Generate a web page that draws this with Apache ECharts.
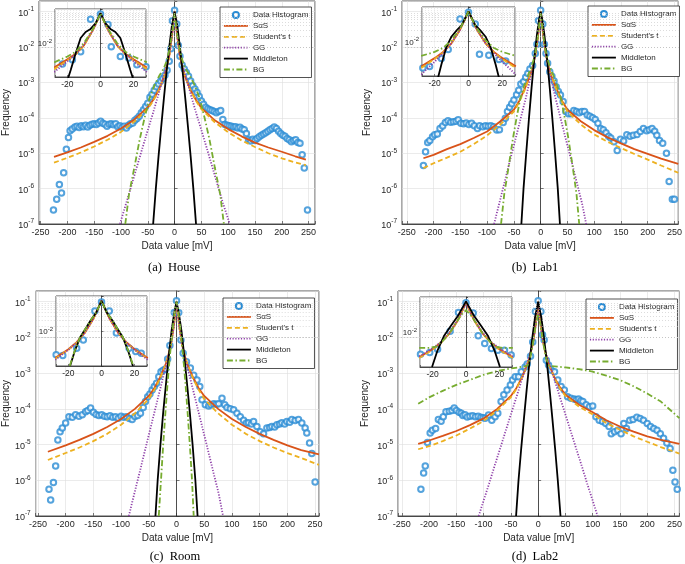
<!DOCTYPE html>
<html><head><meta charset="utf-8">
<script src="https://cdn.jsdelivr.net/npm/echarts@6/dist/echarts.min.js"></script>
<style>html,body{margin:0;padding:0;background:#fff}#c{width:685px;height:564px}</style>
</head><body><div id="c"></div><script>
// ---------------- DATA ----------------
const seriesNames = ['Data Histogram', 'SαS', "Student's t", 'GG', 'Middleton', 'BG'];
const captions = ['(a)  House', '(b)  Lab1', '(c)  Room', '(d)  Lab2'];
const xTickStep = 50;

// (a) House
const houseHist = [[-226,2.5e-7],[-220,5e-7],[-215,1.3e-6],[-211,7.5e-7],[-207,2.8e-6],[-202,1.3e-5],[-198,2.8e-5],[-195,4.3e-5],[-191,4.8e-5],[-186,5.5e-5],[-182,5.8e-5],[-178,5.3e-5],[-174,6e-5],[-170,5.6e-5],[-166,6.2e-5],[-162,5.5e-5],[-158,6.2e-5],[-154,6.6e-5],[-150,6.8e-5],[-146,6.5e-5],[-142,7.2e-5],[-138,8e-5],[-134,7e-5],[-130,6.6e-5],[-126,5.8e-5],[-122,6.6e-5],[-118,6.8e-5],[-114,6.4e-5],[-110,6.8e-5],[-106,5.6e-5],[-102,6e-5],[-98,5.4e-5],[-94,5.8e-5],[-90,5.2e-5],[-86,6.2e-5],[-82,6.8e-5],[-78,7.2e-5],[-74,8.5e-5],[-70,9.5e-5],[-66,1.1e-4],[-62,1.4e-4],[-58,1.7e-4],[-54,2.1e-4],[-50,2.6e-4],[-46,3.8e-4],[-42,4.6e-4],[-38,6e-4],[-34,7.5e-4],[-30,9e-4],[-26,1.1e-3],[-22,1.3e-3],[-18,1.6e-3],[-14,2.2e-3],[-10,4e-3],[-7,9e-3],[-4,0.055],[0,0.11],[4,0.045],[7,0.011],[10,5.5e-3],[14,3.1e-3],[18,2.4e-3],[22,1.9e-3],[26,1.5e-3],[30,1.1e-3],[34,8e-4],[38,6.5e-4],[42,5.2e-4],[46,4e-4],[50,3e-4],[54,2.4e-4],[58,2e-4],[62,1.8e-4],[66,1.7e-4],[70,1.6e-4],[74,1.5e-4],[78,1.4e-4],[82,1.5e-4],[86,1.6e-4],[90,9e-5],[94,6.5e-5],[98,6.2e-5],[102,6e-5],[106,5.8e-5],[110,5.5e-5],[114,5.6e-5],[118,5.2e-5],[122,5.4e-5],[126,4.8e-5],[130,4.6e-5],[134,3.6e-5],[138,2.4e-5],[142,2.2e-5],[146,2.5e-5],[150,2.3e-5],[154,2.6e-5],[158,2.9e-5],[162,3.2e-5],[166,3.5e-5],[170,3.8e-5],[174,4.2e-5],[178,4.6e-5],[182,5e-5],[186,5.5e-5],[190,5e-5],[194,4.2e-5],[198,3.6e-5],[202,3.2e-5],[206,3e-5],[210,2.6e-5],[214,2.4e-5],[218,2.1e-5],[222,2.3e-5],[226,2.4e-5],[230,2e-5],[234,1.9e-5],[238,9e-6],[242,3.8e-6],[248,2.5e-7]];
const houseSaS = [[-225,7.9e-6],[-200,1.05e-5],[-175,1.45e-5],[-150,2.1e-5],[-125,3.1e-5],[-100,5e-5],[-75,9e-5],[-50,2e-4],[-40,3.2e-4],[-30,6e-4],[-20,1.4e-3],[-15,2.5e-3],[-10,5.5e-3],[-5,0.02],[-2.5,0.045],[0,0.1],[2.5,0.045],[5,0.02],[10,5.5e-3],[15,2.5e-3],[20,1.4e-3],[30,6e-4],[40,3.2e-4],[50,1.9e-4],[75,8.5e-5],[100,4.8e-5],[125,3e-5],[150,2e-5],[175,1.45e-5],[200,1.1e-5],[225,8.2e-6],[245,6.6e-6]];
const houseT = [[-225,5.4e-6],[-200,7.4e-6],[-175,1.05e-5],[-150,1.55e-5],[-125,2.4e-5],[-100,4e-5],[-75,7.8e-5],[-50,1.8e-4],[-40,3e-4],[-30,5.8e-4],[-20,1.4e-3],[-15,2.5e-3],[-10,5.5e-3],[-5,0.02],[-2.5,0.045],[0,0.1],[2.5,0.045],[5,0.02],[10,5.5e-3],[15,2.5e-3],[20,1.4e-3],[30,5.8e-4],[40,3e-4],[50,1.75e-4],[75,7.5e-5],[100,3.9e-5],[125,2.3e-5],[150,1.5e-5],[175,1e-5],[200,7.2e-6],[225,5.5e-6],[245,4.6e-6]];
const houseGG = [[-102,1e-7],[-90,4e-7],[-80,1.3e-6],[-70,4.3e-6],[-60,1.4e-5],[-50,4.5e-5],[-40,1.4e-4],[-30,4.7e-4],[-20,1.6e-3],[-15,3e-3],[-10,6e-3],[-5,0.018],[-2.5,0.04],[0,0.1],[2.5,0.04],[5,0.018],[10,6e-3],[15,3e-3],[20,1.6e-3],[30,4.7e-4],[40,1.4e-4],[50,4.5e-5],[60,1.4e-5],[70,4.3e-6],[80,1.3e-6],[90,4e-7],[103,1e-7]];
const houseMid = [[-40,1e-7],[-35,1e-6],[-30,8e-6],[-25,5.5e-5],[-20,3.5e-4],[-15,2e-3],[-10,0.01],[-5,0.04],[0,0.1],[5,0.04],[10,0.01],[15,2e-3],[20,3.5e-4],[25,5.5e-5],[30,8e-6],[35,1e-6],[40,1e-7]];
const houseBG = [[-92,1e-7],[-85,7e-7],[-75,4e-6],[-65,2.5e-5],[-56,1e-4],[-47,3.5e-4],[-38,8e-4],[-28,1.6e-3],[-20,2.5e-3],[-15,4e-3],[-10,8e-3],[-5,0.022],[-2.5,0.045],[0,0.09],[2.5,0.045],[5,0.022],[10,8e-3],[15,4e-3],[20,2.5e-3],[28,1.6e-3],[38,8e-4],[47,3.5e-4],[56,1e-4],[65,2.5e-5],[75,4e-6],[85,7e-7],[92,1e-7]];
const houseInHist = [[-28,2.4e-3],[-23,2.4e-3],[-17,3.2e-3],[-12,5.5e-3],[-6,0.05],[0,0.071],[4.5,0.035],[6.5,7.8e-3],[12,4e-3],[17,3.6e-3],[22,2.3e-3],[27.5,2e-3]];
const houseInSaS = [[-28,1.9e-3],[-20,3.3e-3],[-15,4.8e-3],[-10,8.5e-3],[-5,0.022],[-2,0.045],[0,0.075],[2,0.045],[5,0.022],[10,8.5e-3],[15,4.8e-3],[20,3.3e-3],[28,1.9e-3]];
const houseInT = [[-28,1.7e-3],[-20,3.1e-3],[-15,4.6e-3],[-10,8.5e-3],[-5,0.022],[-2,0.045],[0,0.075],[2,0.045],[5,0.022],[10,8.5e-3],[15,4.6e-3],[20,3.1e-3],[28,1.7e-3]];
const houseInGG = [[-28,1.4e-3],[-20,2.9e-3],[-15,4.7e-3],[-10,9e-3],[-5,0.022],[-2,0.045],[0,0.075],[2,0.045],[5,0.022],[10,9e-3],[15,4.7e-3],[20,2.9e-3],[28,1.4e-3]];
const houseInMid = [[-20,8e-4],[-18,1.6e-3],[-15,5e-3],[-12,0.014],[-9,0.021],[-6,0.026],[-3,0.038],[0,0.075],[3,0.038],[6,0.026],[9,0.021],[12,0.014],[15,5e-3],[18,1.6e-3],[20,8e-4]];
const houseInBG = [[-28,2.7e-3],[-20,4e-3],[-15,5.5e-3],[-10,0.01],[-5,0.024],[-2,0.045],[0,0.075],[2,0.045],[5,0.024],[10,0.01],[15,5.5e-3],[20,4e-3],[28,2.7e-3]];

// (b) Lab1
const lab1Hist = [[-219,4.5e-6],[-215,1.1e-5],[-211,2e-5],[-207,2.3e-5],[-202,2.9e-5],[-198,3.3e-5],[-193,3.5e-5],[-188,5e-5],[-183,5.9e-5],[-178,7.4e-5],[-173,8.3e-5],[-168,7.5e-5],[-163,7.8e-5],[-158,8e-5],[-154,8.8e-5],[-149,7e-5],[-144,6.8e-5],[-139,7.2e-5],[-134,6.5e-5],[-129,7e-5],[-124,6e-5],[-118,5e-5],[-114,6e-5],[-108,5.6e-5],[-103,6e-5],[-98,5.8e-5],[-93,6e-5],[-88,5.6e-5],[-82,4.5e-5],[-77,4.6e-5],[-70,7.4e-5],[-66,9.8e-5],[-62,1.5e-4],[-58,2e-4],[-54,2.5e-4],[-50,3.2e-4],[-45,4.5e-4],[-41,6e-4],[-37,9e-4],[-32,1.05e-3],[-28,1.4e-3],[-24,1.8e-3],[-20,2.4e-3],[-15,3e-3],[-10,6.6e-3],[-7,0.012],[-4,0.056],[0,0.11],[4,0.045],[7,0.012],[10,6.6e-3],[13,3.5e-3],[17,2e-3],[21,1.5e-3],[25,1.1e-3],[29,7.6e-4],[33,5.5e-4],[37,4.4e-4],[42,2.9e-4],[47,1.5e-4],[52,1.3e-4],[57,1.3e-4],[62,1.6e-4],[67,1.5e-4],[72,1.4e-4],[77,1.5e-4],[82,1.5e-4],[87,1.2e-4],[92,1.1e-4],[97,1e-4],[102,9e-5],[107,7e-5],[112,5e-5],[117,4.6e-5],[122,3.8e-5],[127,3e-5],[131,2.7e-5],[137,2.1e-5],[143,1.2e-5],[149,2.5e-5],[155,2.2e-5],[161,3.3e-5],[167,3e-5],[173,3.2e-5],[180,3.4e-5],[186,4.1e-5],[192,5e-5],[198,4.3e-5],[203,4.6e-5],[208,5e-5],[213,4.2e-5],[217,3.2e-5],[222,2.3e-5],[228,1.9e-5],[235,1e-5],[240,1.6e-6],[246,5e-7],[250,5e-7]];
const lab1SaS = [[-219,7.2e-6],[-200,9e-6],[-175,1.3e-5],[-150,1.8e-5],[-125,2.7e-5],[-100,4.1e-5],[-75,8e-5],[-50,1.7e-4],[-40,3e-4],[-30,6.5e-4],[-20,1.5e-3],[-15,2.7e-3],[-10,6e-3],[-5,0.02],[-2.5,0.045],[0,0.1],[2.5,0.045],[5,0.02],[10,6e-3],[15,2.7e-3],[20,1.5e-3],[30,6.5e-4],[40,3e-4],[50,1.7e-4],[75,8e-5],[100,4.5e-5],[125,2.8e-5],[150,1.9e-5],[175,1.3e-5],[200,9.6e-6],[225,7e-6],[257,5e-6]];
const lab1T = [[-219,3.8e-6],[-200,5.2e-6],[-175,7.5e-6],[-150,1.1e-5],[-125,1.8e-5],[-100,3.2e-5],[-75,6.5e-5],[-50,1.5e-4],[-40,2.8e-4],[-30,6e-4],[-20,1.5e-3],[-15,2.7e-3],[-10,6e-3],[-5,0.02],[-2.5,0.045],[0,0.1],[2.5,0.045],[5,0.02],[10,6e-3],[15,2.7e-3],[20,1.5e-3],[30,6e-4],[40,2.8e-4],[50,1.5e-4],[75,6.5e-5],[100,3.4e-5],[125,2.1e-5],[150,1.4e-5],[175,9.5e-6],[200,6.6e-6],[225,4.5e-6],[257,2.8e-6]];
const lab1GG = [[-87,1e-7],[-77,4e-7],[-67,1.6e-6],[-57,6.5e-6],[-47,2.5e-5],[-37,1e-4],[-27,4e-4],[-20,1.2e-3],[-15,2.6e-3],[-10,6e-3],[-5,0.02],[-2.5,0.045],[0,0.1],[2.5,0.045],[5,0.02],[10,6e-3],[15,2.6e-3],[20,1.2e-3],[27,4e-4],[37,1e-4],[47,2.5e-5],[57,6.5e-6],[67,1.6e-6],[77,4e-7],[85,1e-7]];
const lab1Mid = [[-36,1e-7],[-32,1e-6],[-27,1e-5],[-22,9e-5],[-17,7e-4],[-12,4.5e-3],[-7,0.022],[-3,0.06],[0,0.1],[3,0.06],[7,0.022],[12,4.5e-3],[17,7e-4],[22,9e-5],[27,1e-5],[32,1e-6],[36,1e-7]];
const lab1BG = [[-74,1e-7],[-68,7e-7],[-60,4e-6],[-52,2.5e-5],[-45,1e-4],[-38,3.5e-4],[-31,8e-4],[-23,1.7e-3],[-17,2.8e-3],[-12,5e-3],[-7,0.012],[-3,0.04],[0,0.09],[3,0.04],[7,0.012],[12,5e-3],[17,2.8e-3],[23,1.7e-3],[31,8e-4],[38,3.5e-4],[45,1e-4],[52,2.5e-5],[60,4e-6],[67,7e-7],[72,1e-7]];
const lab1InHist = [[-27,1.7e-3],[-23,1.9e-3],[-16,3.2e-3],[-12,5.9e-3],[-5,0.045],[0,0.07],[4,0.032],[6.5,4.3e-3],[12,4e-3],[18,3e-3],[22,2.7e-3],[28,1.7e-3]];
const lab1InSaS = [[-28,1.9e-3],[-20,3.3e-3],[-15,5e-3],[-10,9e-3],[-5,0.022],[-2,0.045],[0,0.075],[2,0.045],[5,0.022],[10,9e-3],[15,5e-3],[20,3.3e-3],[28,1.9e-3]];
const lab1InT = [[-28,1.7e-3],[-20,3.1e-3],[-15,4.8e-3],[-10,9e-3],[-5,0.022],[-2,0.045],[0,0.075],[2,0.045],[5,0.022],[10,9e-3],[15,4.8e-3],[20,3.1e-3],[28,1.7e-3]];
const lab1InGG = [[-28,1.1e-3],[-20,2.6e-3],[-15,4.6e-3],[-10,9e-3],[-5,0.022],[-2,0.045],[0,0.075],[2,0.045],[5,0.022],[10,9e-3],[15,4.6e-3],[20,2.6e-3],[28,1.1e-3]];
const lab1InMid = [[-18,9e-4],[-16,2.2e-3],[-13,7e-3],[-10,0.014],[-7,0.021],[-4,0.03],[0,0.075],[4,0.03],[7,0.021],[10,0.014],[13,7e-3],[16,2.2e-3],[18,9e-4]];
const lab1InBG = [[-28,3.8e-3],[-20,5e-3],[-15,6.5e-3],[-10,0.011],[-5,0.024],[-2,0.045],[0,0.075],[2,0.045],[5,0.024],[10,0.011],[15,6.5e-3],[20,5e-3],[28,3.8e-3]];

// (c) Room
const roomHist = [[-230,5.6e-7],[-227,2.8e-7],[-222,8.7e-7],[-218,2.5e-6],[-214,1.35e-5],[-210,2.3e-5],[-206,2.9e-5],[-200,4e-5],[-194,6e-5],[-188,5.8e-5],[-182,6.9e-5],[-176,6.2e-5],[-170,6.8e-5],[-164,8.3e-5],[-160,9e-5],[-155,1.05e-4],[-150,8e-5],[-145,7e-5],[-140,6.5e-5],[-135,6.8e-5],[-130,6.2e-5],[-125,6e-5],[-120,6.4e-5],[-115,5.8e-5],[-110,6e-5],[-105,5.5e-5],[-100,6.2e-5],[-95,5.8e-5],[-90,6e-5],[-85,5.4e-5],[-80,5e-5],[-75,6.1e-5],[-70,6.5e-5],[-65,7.5e-5],[-60,1.1e-4],[-56,1.6e-4],[-52,2.2e-4],[-48,2.6e-4],[-44,3.4e-4],[-40,4.2e-4],[-36,5.2e-4],[-32,8e-4],[-28,1.1e-3],[-24,1.2e-3],[-20,1.3e-3],[-16,2.5e-3],[-12,6e-3],[-4,0.05],[0,0.107],[4,0.05],[8,8.5e-3],[12,3.6e-3],[18,2.1e-3],[25,1.4e-3],[31,8.8e-4],[37,6.4e-4],[42,4.2e-4],[46,1.8e-4],[52,1.3e-4],[58,1.2e-4],[62,1.3e-4],[67,1.4e-4],[72,1.35e-4],[76,1.4e-4],[82,2e-4],[87,1.3e-4],[91,1.1e-4],[97,1e-4],[103,9.4e-5],[109,7.5e-5],[115,6e-5],[121,4.8e-5],[126,4e-5],[130,4.1e-5],[135,3.8e-5],[139,4.4e-5],[145,3.2e-5],[151,2.3e-5],[157,2e-5],[163,2.9e-5],[168,3e-5],[172,3.2e-5],[177,3.1e-5],[181,3.6e-5],[186,3.8e-5],[190,4.1e-5],[195,3.8e-5],[199,4.4e-5],[204,4.2e-5],[208,5e-5],[214,4.7e-5],[220,5e-5],[226,4e-5],[232,2.9e-5],[235,2.1e-5],[240,1.1e-5],[244,5.6e-6],[250,9e-7]];
const roomSaS = [[-232,6.3e-6],[-200,9.5e-6],[-175,1.35e-5],[-150,2e-5],[-125,3.1e-5],[-100,5.2e-5],[-75,1e-4],[-50,2.3e-4],[-40,3.8e-4],[-30,7.5e-4],[-20,1.7e-3],[-15,3e-3],[-10,6.5e-3],[-5,0.02],[-2.5,0.045],[0,0.1],[2.5,0.045],[5,0.02],[10,6.5e-3],[15,3e-3],[20,1.7e-3],[30,7.5e-4],[40,3.8e-4],[50,2.3e-4],[75,1e-4],[100,5.2e-5],[125,3.1e-5],[150,2e-5],[175,1.35e-5],[200,9.5e-6],[225,7e-6],[257,5.3e-6]];
const roomT = [[-232,3.7e-6],[-200,5.8e-6],[-175,8.3e-6],[-150,1.25e-5],[-125,2e-5],[-100,3.6e-5],[-75,7.5e-5],[-50,1.9e-4],[-40,3.4e-4],[-30,7e-4],[-20,1.7e-3],[-15,3e-3],[-10,6.5e-3],[-5,0.02],[-2.5,0.045],[0,0.1],[2.5,0.045],[5,0.02],[10,6.5e-3],[15,3e-3],[20,1.7e-3],[30,7e-4],[40,3.4e-4],[50,1.9e-4],[75,7.5e-5],[100,3.6e-5],[125,2e-5],[150,1.25e-5],[175,8.3e-6],[200,5.8e-6],[225,4.2e-6],[257,2.7e-6]];
const roomGG = [[-86,1e-7],[-76,4.3e-7],[-66,1.8e-6],[-56,7.8e-6],[-46,3.3e-5],[-36,1.4e-4],[-26,5.9e-4],[-16,2.5e-3],[-10,6e-3],[-5,0.02],[-2.5,0.045],[0,0.1],[2.5,0.045],[5,0.02],[10,6e-3],[16,2.5e-3],[26,5.9e-4],[36,1.4e-4],[46,3.3e-5],[56,7.8e-6],[66,1.8e-6],[76,4.3e-7],[84,1e-7]];
const roomMid = [[-38,1e-7],[-34,1e-6],[-29,1e-5],[-24,8e-5],[-19,5e-4],[-14,3e-3],[-9,0.015],[-4,0.05],[0,0.1],[4,0.05],[9,0.015],[14,3e-3],[19,5e-4],[24,8e-5],[29,1e-5],[34,1e-6],[38,1e-7]];
const roomBG = [[-32,1e-7],[-28,1e-6],[-24,1e-5],[-20,8e-5],[-16,5.5e-4],[-12,3e-3],[-8,0.012],[-4,0.045],[0,0.1],[4,0.045],[8,0.012],[12,3e-3],[16,5.5e-4],[20,8e-5],[24,1e-5],[28,1e-6],[31,1e-7]];
const roomInHist = [[-27.4,2.1e-3],[-23.4,2e-3],[-15,3.2e-3],[-11,5.5e-3],[-4,0.037],[0,0.067],[4.7,0.037],[9,8.8e-3],[16.7,3.2e-3],[20.7,2.6e-3],[24,2.3e-3],[28,1.7e-3]];
const roomInSaS = [[-28,1.7e-3],[-20,3e-3],[-15,4.8e-3],[-10,9e-3],[-5,0.022],[-2,0.045],[0,0.072],[2,0.045],[5,0.022],[10,9e-3],[15,4.8e-3],[20,3e-3],[28,1.7e-3]];
const roomInT = [[-28,1.6e-3],[-20,2.9e-3],[-15,4.7e-3],[-10,9e-3],[-5,0.022],[-2,0.045],[0,0.072],[2,0.045],[5,0.022],[10,9e-3],[15,4.7e-3],[20,2.9e-3],[28,1.6e-3]];
const roomInGG = [[-28,1.5e-3],[-20,2.9e-3],[-15,4.7e-3],[-10,9e-3],[-5,0.022],[-2,0.045],[0,0.072],[2,0.045],[5,0.022],[10,9e-3],[15,4.7e-3],[20,2.9e-3],[28,1.5e-3]];
const roomInMid = [[-19,1e-3],[-16,2.8e-3],[-12.7,6.9e-3],[-9,0.013],[-6.6,0.02],[-3,0.035],[0,0.072],[3,0.035],[6.6,0.02],[9,0.013],[12.7,6.9e-3],[16,2.8e-3],[19,1e-3]];
const roomInBG = [[-19.2,1e-3],[-16,2.9e-3],[-12.7,7e-3],[-9,0.013],[-6.6,0.02],[-3,0.035],[0,0.072],[3,0.035],[6.6,0.02],[9,0.013],[12.7,7e-3],[16,2.9e-3],[19.2,1e-3]];

// (d) Lab2
const lab2Hist = [[-215,5.6e-7],[-210,1.6e-6],[-207,2.5e-6],[-203,1.15e-5],[-198,2.1e-5],[-194,2.5e-5],[-188,2.8e-5],[-183,5e-5],[-178,4.5e-5],[-174,6e-5],[-169,8.3e-5],[-163,8.6e-5],[-158,9e-5],[-154,1.05e-4],[-150,9e-5],[-145,8e-5],[-141,7.5e-5],[-138,6.5e-5],[-134,6.8e-5],[-130,5.9e-5],[-125,6.2e-5],[-120,6.4e-5],[-115,6e-5],[-110,6.2e-5],[-105,5.8e-5],[-101,5.6e-5],[-97,5.5e-5],[-91,6.7e-5],[-85,4.8e-5],[-79,6e-5],[-74,7.6e-5],[-68,1.6e-4],[-63,2.5e-4],[-57,3.4e-4],[-51,4.7e-4],[-47,6.4e-4],[-42,8e-4],[-36,8e-4],[-31,1.1e-3],[-24,1.5e-3],[-20,1.8e-3],[-14,3e-3],[-10,7.5e-3],[-5,0.053],[0,0.107],[5,0.053],[8,0.012],[11,8.5e-3],[15,2.3e-3],[19,1.7e-3],[24,1.2e-3],[30,1.1e-3],[36,6.4e-4],[42,4.2e-4],[48,3.4e-4],[54,2.2e-4],[60,2e-4],[66,1.9e-4],[70,1.8e-4],[74,1.9e-4],[78,1.7e-4],[82,1.6e-4],[88,1.3e-4],[94,1.15e-4],[100,1.2e-4],[106,6e-5],[112,4.8e-5],[118,4.4e-5],[124,3.9e-5],[130,3.2e-5],[134,2e-5],[140,2.3e-5],[146,2.5e-5],[152,2e-5],[157,3.9e-5],[162,2.8e-5],[168,4.8e-5],[174,5e-5],[181,5.8e-5],[187,5.4e-5],[193,4.8e-5],[200,3.9e-5],[206,3.2e-5],[212,2.8e-5],[218,2.5e-5],[224,2e-5],[230,1.5e-5],[236,1.1e-5],[242,7.8e-6],[247,1.9e-6],[251,9e-7],[255,5.6e-7]];
const lab2SaS = [[-220,1.05e-5],[-200,1.3e-5],[-175,1.75e-5],[-150,2.4e-5],[-125,3.5e-5],[-100,5.4e-5],[-75,1e-4],[-50,2.3e-4],[-40,3.8e-4],[-30,7.5e-4],[-20,1.7e-3],[-15,3e-3],[-10,6.5e-3],[-5,0.02],[-2.5,0.045],[0,0.1],[2.5,0.045],[5,0.02],[10,6.5e-3],[15,3e-3],[20,1.7e-3],[30,7.5e-4],[40,4e-4],[50,2.5e-4],[75,1.3e-4],[100,8e-5],[125,4.8e-5],[150,3.2e-5],[175,2.3e-5],[200,1.7e-5],[225,1.35e-5],[259,1.05e-5]];
const lab2T = [[-220,7.4e-6],[-200,9e-6],[-175,1.25e-5],[-150,1.8e-5],[-125,2.8e-5],[-100,4.6e-5],[-75,9e-5],[-50,2.1e-4],[-40,3.6e-4],[-30,7.2e-4],[-20,1.7e-3],[-15,3e-3],[-10,6.5e-3],[-5,0.02],[-2.5,0.045],[0,0.1],[2.5,0.045],[5,0.02],[10,6.5e-3],[15,3e-3],[20,1.7e-3],[30,7.2e-4],[40,3.7e-4],[50,2.3e-4],[75,1.15e-4],[100,7e-5],[125,4e-5],[150,2.6e-5],[175,1.7e-5],[200,1.2e-5],[225,8.5e-6],[259,5.6e-6]];
const lab2GG = [[-109,1e-7],[-100,2.7e-7],[-90,8e-7],[-80,2.5e-6],[-70,7.5e-6],[-60,2.3e-5],[-50,7e-5],[-40,2.1e-4],[-30,6.5e-4],[-20,2e-3],[-15,3.3e-3],[-10,6.5e-3],[-5,0.02],[-2.5,0.045],[0,0.1],[2.5,0.045],[5,0.02],[10,6.5e-3],[15,3.3e-3],[20,2e-3],[30,6.5e-4],[40,2.1e-4],[50,7e-5],[60,2.3e-5],[70,7.5e-6],[80,2.5e-6],[90,8e-7],[100,2.7e-7],[109,1e-7]];
const lab2Mid = [[-40.5,1e-7],[-36,1e-6],[-31,8e-6],[-26,5.5e-5],[-21,3.5e-4],[-16,2e-3],[-11,9e-3],[-6,0.035],[0,0.1],[6,0.035],[11,9e-3],[16,2e-3],[21,3.5e-4],[26,5.5e-5],[31,8e-6],[36,1e-6],[41,1e-7]];
const lab2BG = [[-220,1.4e-4],[-200,2.1e-4],[-175,3.2e-4],[-150,4.7e-4],[-125,6.5e-4],[-100,9e-4],[-75,1.15e-3],[-50,1.35e-3],[-30,1.5e-3],[-20,1.6e-3],[-15,2.5e-3],[-10,6e-3],[-5,0.02],[0,0.045],[5,0.02],[10,6e-3],[15,2.5e-3],[20,1.6e-3],[30,1.55e-3],[50,1.45e-3],[75,1.3e-3],[100,1.1e-3],[125,8.5e-4],[150,6.4e-4],[175,4.3e-4],[200,2.7e-4],[225,1.6e-4],[259,5.5e-5]];
const lab2InHist = [[-27.2,2.3e-3],[-21.7,2.6e-3],[-17,3.2e-3],[-9.5,0.0105],[-4.5,0.036],[0,0.068],[4.3,0.035],[7.3,7.8e-3],[11.2,4.7e-3],[15.2,3.4e-3],[19,3e-3],[23,3e-3],[27,2.2e-3]];
const lab2InSaS = [[-28,1.9e-3],[-20,3.2e-3],[-15,5e-3],[-10,9e-3],[-5,0.021],[-2,0.043],[0,0.07],[2,0.043],[5,0.021],[10,9e-3],[15,5e-3],[20,3.2e-3],[28,1.9e-3]];
const lab2InT = [[-28,1.8e-3],[-20,3.1e-3],[-15,4.9e-3],[-10,9e-3],[-5,0.021],[-2,0.043],[0,0.07],[2,0.043],[5,0.021],[10,9e-3],[15,4.9e-3],[20,3.1e-3],[28,1.8e-3]];
const lab2InGG = [[-28,2e-3],[-20,3.4e-3],[-15,5.2e-3],[-10,9.5e-3],[-5,0.022],[-2,0.043],[0,0.07],[2,0.043],[5,0.022],[10,9.5e-3],[15,5.2e-3],[20,3.4e-3],[28,2e-3]];
const lab2InMid = [[-20.3,1e-3],[-17,3e-3],[-13,8e-3],[-9,0.015],[-5,0.028],[0,0.075],[5,0.028],[9,0.015],[13,8e-3],[17,3e-3],[20.3,1e-3]];
const lab2InBG = [[-28,3.5e-3],[-22,3.5e-3],[-18,3.8e-3],[-14,5.5e-3],[-10,9e-3],[-6,0.018],[-3,0.03],[0,0.042],[3,0.03],[6,0.018],[10,9e-3],[14,5.5e-3],[18,3.8e-3],[22,3.5e-3],[28,3.5e-3]];

// ---------------- LAYOUT / STYLE ----------------
const panelData = [
  {main:[houseHist,houseSaS,houseT,houseGG,houseMid,houseBG], inset:[houseInHist,houseInSaS,houseInT,houseInGG,houseInMid,houseInBG]},
  {main:[lab1Hist,lab1SaS,lab1T,lab1GG,lab1Mid,lab1BG], inset:[lab1InHist,lab1InSaS,lab1InT,lab1InGG,lab1InMid,lab1InBG]},
  {main:[roomHist,roomSaS,roomT,roomGG,roomMid,roomBG], inset:[roomInHist,roomInSaS,roomInT,roomInGG,roomInMid,roomInBG]},
  {main:[lab2Hist,lab2SaS,lab2T,lab2GG,lab2Mid,lab2BG], inset:[lab2InHist,lab2InSaS,lab2InT,lab2InGG,lab2InMid,lab2InBG]}
];
const layout = [
  {main:{left:38,top:1,width:277,height:223}, x:[-253,262], inset:{left:55,top:9,width:91,height:68}, legend:{left:220,top:7}, yGap:28, cap:{x:169,y:256}},
  {main:{left:402,top:1,width:280,height:223}, x:[-259,257], inset:{left:422,top:7,width:93,height:69}, legend:{left:588,top:6}, yGap:30, cap:{x:530,y:256}},
  {main:{left:35,top:291,width:284,height:225}, x:[-254,257], inset:{left:56,top:296,width:91,height:70}, legend:{left:223,top:298}, yGap:23, cap:{x:170,y:545}},
  {main:{left:398,top:291,width:284,height:225}, x:[-257,259], inset:{left:420,top:297,width:92,height:70}, legend:{left:586,top:299}, yGap:28, cap:{x:530,y:545}}
];
const colors = ['#2a8cd4', '#D95319', '#EDB120', '#8E3FA8', '#000000', '#77AC30'];
const dashes = [null, 'solid', [5,3], [1.2,1.6], 'solid', [6,2.5,1.5,2.5]];
const FONT = 'Liberation Sans, Arial, Helvetica, sans-serif';
const AX = '#262626';

const minorY = [];
for (let k = -7; k <= -2; k++) for (let m = 2; m <= 9; m++) minorY.push(m * Math.pow(10, k));
minorY.push(0.2);
const minorYIn = [];
for (let k = -3; k <= -2; k++) for (let m = 2; m <= 9; m++) minorYIn.push(m * Math.pow(10, k));

function supLabel(v) {
  const l = Math.log10(v), e = Math.round(l);
  if (Math.abs(l - e) > 1e-6) return '';
  return '{b|10}{s|' + e + '}';
}
const rich = {b:{fontSize:9, fontFamily:FONT, color:AX, verticalAlign:'bottom'}, s:{fontSize:6.5, fontFamily:FONT, color:AX, verticalAlign:'top', padding:[0,0,5,0]}};

const legendData = seriesNames.map((n, i) => i === 0 ? {name:n, itemStyle:{opacity:1}} : {name:n, itemStyle:{opacity:0}});

const grid = [], xAxis = [], yAxis = [], series = [], legend = [], title = [];
layout.forEach((L, p) => {
  grid[p] = Object.assign({show:true, borderColor:AX, borderWidth:0.8, backgroundColor:'#fff', z:0}, L.main);
  xAxis[p] = {type:'value', gridIndex:p, min:L.x[0], max:L.x[1], splitNumber:10,
    axisLine:{show:true, onZero:false, lineStyle:{color:AX, width:0.8}},
    axisTick:{inside:true, length:3, lineStyle:{color:AX, width:0.6}},
    axisLabel:{fontSize:9, fontFamily:FONT, color:AX, margin:4, showMinLabel:true, showMaxLabel:true,
      formatter: v => (Math.abs(v % xTickStep) < 1e-9 ? String(v) : '')},
    splitLine:{show:true, lineStyle:{color:'#dedede', width:0.6}},
    name:'Data value [mV]', nameLocation:'middle', nameGap:17, nameTextStyle:{fontSize:10, fontFamily:FONT, color:AX}};
  yAxis[p] = {type:'log', logBase:10, gridIndex:p, min:1e-7, max:0.2,
    axisLine:{show:true, lineStyle:{color:AX, width:0.8}},
    axisTick:{inside:true, length:3, lineStyle:{color:AX, width:0.6}},
    axisLabel:{formatter:supLabel, rich:rich, margin:5},
    splitLine:{show:true, lineStyle:{color:'#dedede', width:0.6}},
    name:'Frequency', nameLocation:'middle', nameGap:L.yGap, nameRotate:90, nameTextStyle:{fontSize:10, fontFamily:FONT, color:AX}};
  const q = p + 4;
  grid[q] = Object.assign({show:true, borderColor:AX, borderWidth:0.8, backgroundColor:'#fff', z:5}, L.inset);
  xAxis[q] = {type:'value', gridIndex:q, min:-27.5, max:27.5, splitNumber:3, z:6,
    axisLine:{show:true, onZero:false, lineStyle:{color:AX, width:0.8}},
    axisTick:{inside:true, length:2, lineStyle:{color:AX, width:0.6}},
    axisLabel:{fontSize:8.5, fontFamily:FONT, color:AX, margin:3, formatter: v => (Math.abs(v % 20) < 1e-9 ? String(v) : '')},
    splitLine:{show:true, lineStyle:{color:'#e6e6e6', width:0.5}}};
  yAxis[q] = {type:'log', logBase:10, gridIndex:q, min:1e-3, max:0.1, z:6,
    axisLine:{show:true, lineStyle:{color:AX, width:0.8}},
    axisTick:{inside:true, length:2, lineStyle:{color:AX, width:0.6}},
    axisLabel:{formatter: v => (Math.abs(Math.log10(v) + 2) < 1e-6 ? supLabel(v) : ''), rich:{b:{fontSize:8, fontFamily:FONT, color:AX, verticalAlign:'bottom'}, s:{fontSize:6, fontFamily:FONT, color:AX, verticalAlign:'top', padding:[0,0,4,0]}}, margin:3},
    splitLine:{show:true, lineStyle:{color:'#e6e6e6', width:0.5}}};
  legend.push({left:L.legend.left, top:L.legend.top, orient:'vertical', data:legendData, selectedMode:false,
    itemWidth:24, itemHeight:6, itemGap:2.9, padding:[4,3,4,3], borderColor:AX, borderWidth:0.8, backgroundColor:'#fff',
    lineStyle:{width:1.8}, textStyle:{fontSize:8, fontFamily:FONT, color:AX}});
  title.push({text:captions[p], left:L.cap.x, top:L.cap.y, textAlign:'center', textStyle:{fontSize:12.5, fontWeight:'normal', fontFamily:'Liberation Serif, Times New Roman, serif', color:'#000'}});
});

function mk(p, axisIdx, k, data, zBase) {
  if (k === 0) {
    return {type:'scatter', name:seriesNames[0], xAxisIndex:axisIdx, yAxisIndex:axisIdx, data:data,
      symbol:'emptyCircle', symbolSize:5.5, itemStyle:{color:colors[0], borderColor:colors[0], borderWidth:0.7}, z:zBase, silent:true};
  }
  return {type:'line', name:seriesNames[k], xAxisIndex:axisIdx, yAxisIndex:axisIdx, data:data,
    symbol:'none', showSymbol:false, clip:true, itemStyle:{color:colors[k]},
    lineStyle:{color:colors[k], width:1.8, type:dashes[k]}, z:zBase + 1, silent:true};
}
// main series first (legend styles come from these)
panelData.forEach((D, p) => { D.main.forEach((d, k) => series.push(mk(p, p, k, d, 2))); });
// minor grids
panelData.forEach((D, p) => {
  series.push({type:'line', xAxisIndex:p, yAxisIndex:p, data:[], z:1, silent:true,
    markLine:{silent:true, symbol:['none','none'], label:{show:false}, animation:false,
      lineStyle:{type:[1,2], color:'#c4c4c4', width:0.6}, emphasis:{disabled:true},
      data:minorY.map(v => ({yAxis:v}))}});
  series.push({type:'line', xAxisIndex:p + 4, yAxisIndex:p + 4, data:[], z:6, silent:true,
    markLine:{silent:true, symbol:['none','none'], label:{show:false}, animation:false,
      lineStyle:{type:[1,2], color:'#d4d4d4', width:0.5}, emphasis:{disabled:true},
      data:minorYIn.map(v => ({yAxis:v}))}});
});
panelData.forEach((D, p) => { D.inset.forEach((d, k) => series.push(mk(p, p + 4, k, d, 7))); });

const chart = echarts.init(document.getElementById('c'), null, {renderer:'canvas'});
chart.setOption({animation:false, backgroundColor:'#fff', grid, xAxis, yAxis, series, legend, title});
</script></body></html>
